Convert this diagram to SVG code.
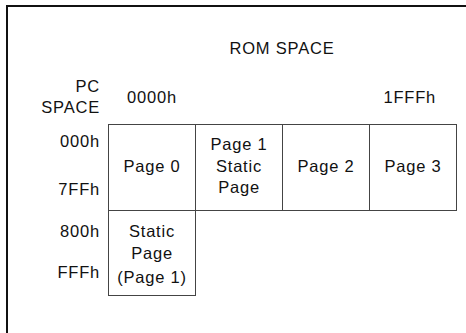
<svg xmlns="http://www.w3.org/2000/svg" width="466" height="333" viewBox="0 0 466 333">
<style>
text{font-family:"Liberation Sans",Arial,sans-serif;font-size:16.5px;letter-spacing:0.8px;fill:#111}
.c{text-anchor:middle}
.r{text-anchor:end}
.cell{fill:none;stroke:#444;stroke-width:1}
</style>
<rect width="466" height="333" fill="#fff"/>
<g id="frame"><path d="M7 333 V6 H466" fill="none" stroke="#111" stroke-width="2"/></g>
<g id="headers">
<text class="c" x="282" y="54">ROM SPACE</text>
<text class="r" x="100" y="92">PC</text>
<text class="r" x="100" y="113">SPACE</text>
<text x="127" y="103">0000h</text>
<text class="r" x="436" y="103">1FFFh</text>
<text class="r" x="100" y="147">000h</text>
<text class="r" x="100" y="195">7FFh</text>
<text class="r" x="100" y="237">800h</text>
<text class="r" x="100" y="278">FFFh</text>
</g>
<g id="page0"><rect class="cell" x="108.5" y="124.5" width="87" height="86"/><text class="c" x="152" y="172">Page 0</text></g>
<g id="page1"><rect class="cell" x="195.5" y="124.5" width="87" height="86"/><text class="c" x="239" y="150">Page 1</text><text class="c" x="239" y="172">Static</text><text class="c" x="239" y="193">Page</text></g>
<g id="page2"><rect class="cell" x="282.5" y="124.5" width="87" height="86"/><text class="c" x="326" y="172">Page 2</text></g>
<g id="page3"><rect class="cell" x="369.5" y="124.5" width="87" height="86"/><text class="c" x="413" y="172">Page 3</text></g>
<g id="static"><rect class="cell" x="108.5" y="210.5" width="87" height="85"/><text class="c" x="152" y="237">Static</text><text class="c" x="152" y="259">Page</text><text class="c" x="152" y="283">(Page 1)</text></g>
<g id="connectors"/>
</svg>
